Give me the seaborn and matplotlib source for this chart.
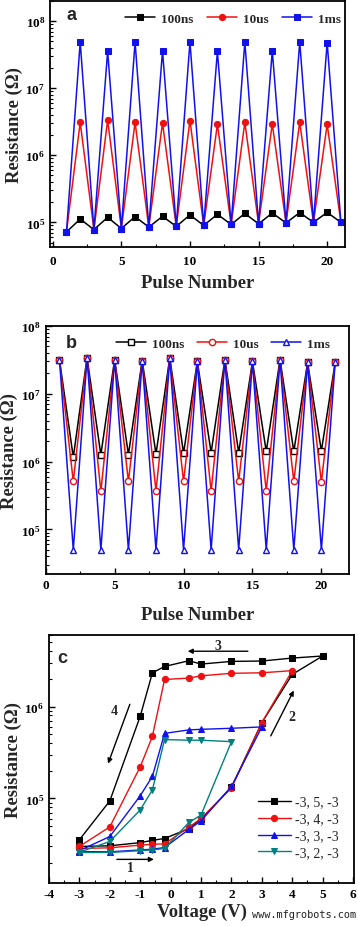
import numpy as np
import pandas as pd
import seaborn as sns
import matplotlib
matplotlib.use("Agg")
import matplotlib.pyplot as plt
from matplotlib.ticker import LogLocator, MultipleLocator, LogFormatterMathtext, NullFormatter

sns.set_theme(style="ticks")
plt.rcParams['font.family'] = ['Liberation Serif', 'DejaVu Serif']
plt.rcParams['font.weight'] = 'bold'
plt.rcParams['mathtext.fontset'] = 'custom'
plt.rcParams['mathtext.rm'] = 'Liberation Serif:bold'
plt.rcParams['mathtext.it'] = 'Liberation Serif:bold'
plt.rcParams['mathtext.bf'] = 'Liberation Serif:bold'
plt.rcParams['axes.unicode_minus'] = False

# ---------------- Data ----------------
pulses = list(range(1, 22))
# panel a: odd pulses shared low state
a_low = [7.2e4, 7.8e4, 8.1e4, 8.5e4, 8.7e4, 9.0e4, 9.3e4, 9.5e4, 9.8e4, 1.0e5, 1.0e5]
a_100ns_high = [1.12e5, 1.19e5, 1.22e5, 1.23e5, 1.29e5, 1.32e5, 1.36e5, 1.38e5, 1.40e5, 1.41e5]
a_10us_high = [3.1e6, 3.35e6, 3.1e6, 3.05e6, 3.3e6, 2.9e6, 3.1e6, 2.95e6, 3.1e6, 2.9e6]
a_1ms_high = [4.9e7, 3.55e7, 4.9e7, 3.6e7, 4.9e7, 3.55e7, 4.9e7, 3.6e7, 4.9e7, 4.8e7]

# panel b: odd pulses shared high state
b_high = [3.16e7, 3.4e7, 3.2e7, 3.1e7, 3.4e7, 3.0e7, 3.2e7, 3.0e7, 3.2e7, 2.9e7, 2.9e7]
b_100ns_low = [1.16e6, 1.26e6, 1.27e6, 1.29e6, 1.33e6, 1.36e6, 1.36e6, 1.41e6, 1.41e6, 1.44e6]
b_10us_low = [5.1e5, 3.66e5, 5.1e5, 3.7e5, 5.1e5, 3.7e5, 5.1e5, 3.7e5, 5.1e5, 5.0e5]
b_1ms_low = [5.0e4] * 10

series_labels = ["100ns", "10us", "1ms"]

# panel c: voltage sweeps (forward low branch, then return high branch)
c_v_fwd = [-3, -2, -1, -0.6, -0.2, 0.6, 1, 2, 3, 4, 5]
c_v_back = [4, 3, 2, 1, 0.6, -0.2, -0.6, -1, -2, -3]
c5_fwd = [3.0e4, 3.05e4, 3.3e4, 3.5e4, 3.66e4, 4.7e4, 5.96e4, 1.32e5, 6.7e5, 2.24e6, 3.55e6]
c5_back = [3.37e6, 3.13e6, 3.1e6, 2.9e6, 3.15e6, 2.73e6, 2.33e6, 7.85e5, 9.4e4, 3.55e4]
c4_fwd = [2.85e4, 2.9e4, 3.1e4, 3.17e4, 3.2e4, 4.86e4, 6.05e4, 1.3e5, 6.7e5, 2.46e6]
c4_back = [2.33e6, 2.3e6, 2.16e6, 2.04e6, 1.97e6, 4.74e5, 2.21e5, 4.9e4, 3.0e4]
c3_fwd = [2.64e4, 2.62e4, 2.75e4, 2.8e4, 2.92e4, 4.6e4, 5.7e4, 1.35e5, 6.0e5]
c3_back = [5.8e5, 5.65e5, 5.57e5, 5.1e5, 1.74e5, 1.07e5, 3.85e4, 2.7e4]
c2_fwd = [2.58e4, 2.58e4, 2.7e4, 2.75e4, 2.85e4, 5.47e4, 6.6e4, 4.15e5]
c2_back = [4.3e5, 4.3e5, 4.37e5, 1.24e5, 7.5e4, 3.4e4, 2.6e4]
c_labels = ["-3, 5, -3", "-3, 4, -3", "-3, 3, -3", "-3, 2, -3"]

# ---------------- Helpers ----------------
def interleave(odd_vals, even_vals):
    out = []
    for i in range(len(odd_vals)):
        out.append(odd_vals[i])
        if i < len(even_vals):
            out.append(even_vals[i])
    return out

fig = plt.figure(figsize=(3.58, 9.28), dpi=100)
ax_a = fig.add_axes([0.1397, 0.7328, 0.824, 0.2651])
ax_b = fig.add_axes([0.1277, 0.3804, 0.847, 0.2672])
ax_c = fig.add_axes([0.1369, 0.0474, 0.852, 0.2672])

lab_fs = 13.4
tick_fs = 9.5

def style_axis(ax):
    ax.set_yscale('log')
    for s in ax.spines.values():
        s.set_linewidth(1.3)
        s.set_color('black')
    ax.tick_params(axis='both', which='both', direction='in', top=False, right=False,
                   labelsize=tick_fs, colors='black')
    ax.tick_params(which='major', length=4, width=1.0)
    ax.tick_params(which='minor', length=2.5, width=0.8)
    ax.yaxis.set_major_locator(LogLocator(base=10, numticks=10))
    ax.yaxis.set_minor_locator(LogLocator(base=10, subs=np.arange(2, 10), numticks=20))
    ax.yaxis.set_major_formatter(LogFormatterMathtext())
    ax.yaxis.set_minor_formatter(NullFormatter())
    for lab in ax.get_xticklabels() + ax.get_yticklabels():
        lab.set_fontweight('bold')

# ---------------- Panel a ----------------
cols = ['black', '#ee1111', '#1111ee']
a_highs = [a_100ns_high, a_10us_high, a_1ms_high]
for lbl, hi, col, mk in zip(series_labels, a_highs, cols, ['s', 'o', 's']):
    df = pd.DataFrame({'Pulse': pulses, 'R': interleave(a_low, hi)})
    sns.lineplot(data=df, x='Pulse', y='R', ax=ax_a, color=col, marker=mk, markersize=4.5,
                 markeredgecolor=col, linewidth=1.1, label=lbl, sort=False, estimator=None)
style_axis(ax_a)
ax_a.tick_params(axis='x', pad=6)
ax_a.set_xlim(-0.2, 21.3)
ax_a.set_ylim(4.3e4, 2.0e8)
ax_a.xaxis.set_major_locator(MultipleLocator(5))
ax_a.xaxis.set_minor_locator(MultipleLocator(2.5))
ax_a.set_xlabel('Pulse Number', fontsize=lab_fs, fontweight='bold', labelpad=5)
ax_a.set_ylabel('Resistance (Ω)', fontsize=lab_fs, fontweight='bold', labelpad=2)
ax_a.text(0.074, 0.943, 'a', transform=ax_a.transAxes, fontsize=13, fontweight='bold',
          family=['Liberation Sans', 'DejaVu Sans'], va='center', ha='center')
ax_a.legend(loc='center right', bbox_to_anchor=(1.0, 0.927), ncol=3, frameon=False,
            prop={'weight': 'bold', 'size': 9.5}, handlelength=2.3, handletextpad=0.45,
            columnspacing=1.0, borderaxespad=0.2, borderpad=0.1)

# ---------------- Panel b ----------------
b_lows = [b_100ns_low, b_10us_low, b_1ms_low]
for lbl, lo, col, mk in zip(series_labels, b_lows, cols, ['s', 'o', '^']):
    df = pd.DataFrame({'Pulse': pulses, 'R': interleave(b_high, lo)})
    sns.lineplot(data=df, x='Pulse', y='R', ax=ax_b, color=col, marker=mk, markersize=4.5,
                 markerfacecolor='white', markeredgecolor=col, markeredgewidth=1.0,
                 linewidth=1.1, label=lbl, sort=False, estimator=None)
style_axis(ax_b)
ax_b.set_xlim(0, 22)
ax_b.set_ylim(2.2e4, 1.0e8)
ax_b.xaxis.set_major_locator(MultipleLocator(5))
ax_b.xaxis.set_minor_locator(MultipleLocator(2.5))
ax_b.set_xlabel('Pulse Number', fontsize=lab_fs, fontweight='bold', labelpad=11)
ax_b.set_ylabel('Resistance (Ω)', fontsize=lab_fs, fontweight='bold', labelpad=2)
ax_b.text(0.086, 0.934, 'b', transform=ax_b.transAxes, fontsize=13, fontweight='bold',
          family=['Liberation Sans', 'DejaVu Sans'], va='center', ha='center')
ax_b.legend(loc='center right', bbox_to_anchor=(0.95, 0.93), ncol=3, frameon=False,
            prop={'weight': 'bold', 'size': 9.5}, handlelength=2.3, handletextpad=0.45,
            columnspacing=0.9, borderaxespad=0.2, borderpad=0.1)

# ---------------- Panel c ----------------
c_cols = ['black', '#ee1111', '#1111ee', '#008080']
c_marks = ['s', 'o', '^', 'v']
c_data = [(c5_fwd, c5_back), (c4_fwd, c4_back), (c3_fwd, c3_back), (c2_fwd, c2_back)]
for lbl, (fw, bk), col, mk in zip(c_labels, c_data, c_cols, c_marks):
    n_f = len(fw)
    v = c_v_fwd[:n_f] + c_v_back[len(c_v_back) - len(bk):]
    df = pd.DataFrame({'V': v, 'R': fw + bk})
    sns.lineplot(data=df, x='V', y='R', ax=ax_c, color=col, marker=mk, markersize=4.5,
                 markeredgecolor=col, linewidth=1.0, label=lbl, sort=False, estimator=None)
style_axis(ax_c)
ax_c.set_xlim(-4, 6.03)
ax_c.set_ylim(1.2e4, 6.0e6)
ax_c.xaxis.set_major_locator(MultipleLocator(1))
ax_c.xaxis.set_minor_locator(MultipleLocator(0.5))
ax_c.set_xlabel('Voltage (V)', fontsize=lab_fs, fontweight='bold', labelpad=2)
ax_c.set_ylabel('Resistance (Ω)', fontsize=lab_fs, fontweight='bold', labelpad=2)
ax_c.text(0.042, 0.91, 'c', transform=ax_c.transAxes, fontsize=13, fontweight='bold',
          family=['Liberation Sans', 'DejaVu Sans'], va='center', ha='center')
ax_c.legend(loc='lower left', bbox_to_anchor=(0.68, 0.09), ncol=1, frameon=False,
            prop={'weight': 'normal', 'size': 10}, handlelength=2.4, handletextpad=0.3,
            labelspacing=0.28, borderaxespad=0.0, borderpad=0.1)

arrow_kw = dict(arrowstyle='-|>', color='black', lw=1.0, mutation_scale=7)
ax_c.annotate('', xy=(0.47, 4.0e6), xytext=(2.63, 4.0e6), arrowprops=arrow_kw)
ax_c.text(1.57, 4.6e6, '3', fontsize=10, fontweight='bold', ha='center', va='center')
ax_c.annotate('', xy=(4.09, 1.59e6), xytext=(3.25, 4.5e5), arrowprops=arrow_kw)
ax_c.text(4.0, 7.7e5, '2', fontsize=10, fontweight='bold', ha='center', va='center')
ax_c.annotate('', xy=(-2.09, 2.24e5), xytext=(-1.31, 1.13e6), arrowprops=arrow_kw)
ax_c.text(-1.86, 9.0e5, '4', fontsize=10, fontweight='bold', ha='center', va='center')
ax_c.annotate('', xy=(-0.46, 2.17e4), xytext=(-1.86, 2.17e4), arrowprops=arrow_kw)
ax_c.text(-1.32, 1.77e4, '1', fontsize=10, fontweight='bold', ha='center', va='center')

fig.text(0.995, 0.009, 'www.mfgrobots.com', fontsize=7.4, family=['DejaVu Sans Mono'],
         color='#222222', ha='right', va='bottom', fontweight='normal')

fig.savefig('out.png', dpi=100)
